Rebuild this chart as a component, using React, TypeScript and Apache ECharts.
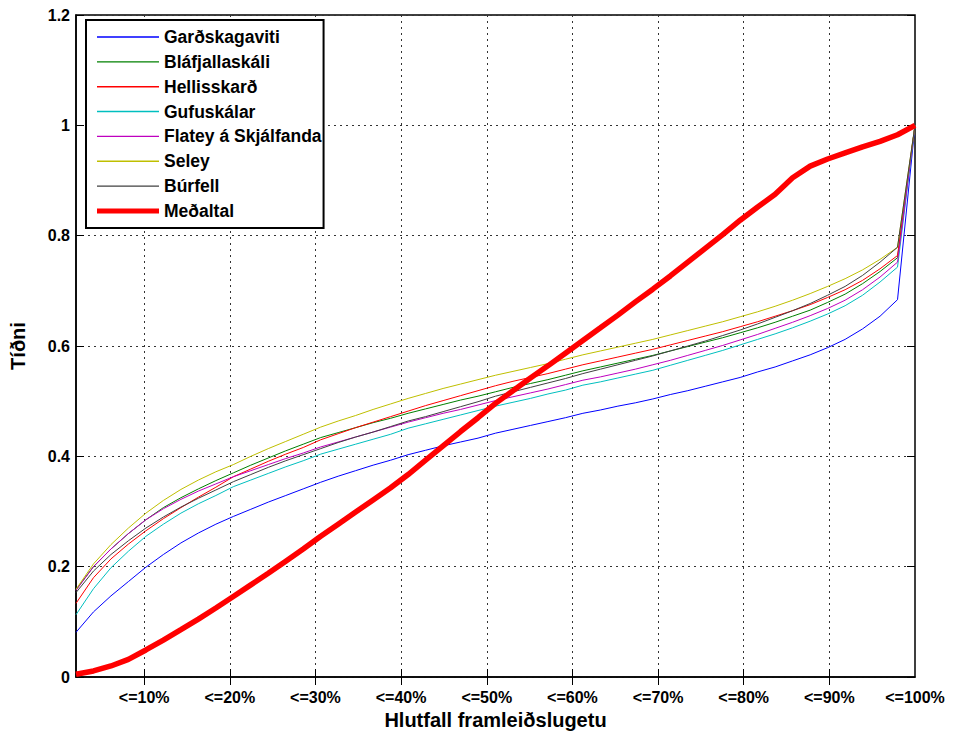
import React, { useEffect, useRef } from "react";
import * as echarts from "echarts";

const capacityPct = [
  2.04, 4.08, 6.12, 8.16, 10.2, 12.24, 14.29, 16.33, 18.37, 20.41, 22.45, 24.49, 26.53, 28.57, 30.61,
  32.65, 34.69, 36.73, 38.78, 40.82, 42.86, 44.9, 46.94, 48.98, 51.02, 53.06, 55.1, 57.14, 59.18, 61.22,
  63.27, 65.31, 67.35, 69.39, 71.43, 73.47, 75.51, 77.55, 79.59, 81.63, 83.67, 85.71, 87.76, 89.8, 91.84,
  93.88, 95.92, 97.96, 100,
];

const gardskagaviti = [
  0.081, 0.118, 0.147, 0.173, 0.199, 0.222, 0.243, 0.261, 0.277, 0.291, 0.304, 0.317, 0.329, 0.341, 0.353,
  0.364, 0.374, 0.384, 0.393, 0.403, 0.411, 0.419, 0.426, 0.433, 0.442, 0.449, 0.456, 0.463, 0.47, 0.478,
  0.484, 0.491, 0.497, 0.504, 0.512, 0.519, 0.527, 0.535, 0.543, 0.553, 0.562, 0.573, 0.584, 0.597, 0.612,
  0.631, 0.654, 0.684, 1,
];
const blafjallaskali = [
  0.158, 0.2, 0.232, 0.26, 0.285, 0.307, 0.325, 0.341, 0.356, 0.37, 0.384, 0.397, 0.41, 0.422, 0.434,
  0.443, 0.452, 0.461, 0.469, 0.478, 0.486, 0.494, 0.502, 0.509, 0.517, 0.525, 0.532, 0.539, 0.547, 0.555,
  0.562, 0.569, 0.576, 0.583, 0.591, 0.599, 0.607, 0.615, 0.624, 0.633, 0.643, 0.654, 0.665, 0.679, 0.694,
  0.713, 0.735, 0.76, 1,
];
const hellisskard = [
  0.1335, 0.18, 0.214, 0.241, 0.265, 0.287, 0.307, 0.326, 0.344, 0.363, 0.377, 0.391, 0.404, 0.416, 0.43,
  0.441, 0.452, 0.462, 0.472, 0.482, 0.492, 0.501, 0.51, 0.519, 0.528, 0.536, 0.543, 0.55, 0.558, 0.566,
  0.573, 0.58, 0.587, 0.594, 0.602, 0.61, 0.618, 0.626, 0.635, 0.644, 0.654, 0.664, 0.675, 0.688, 0.702,
  0.719, 0.74, 0.764, 1,
];
const gufuskalar = [
  0.113, 0.16, 0.198, 0.228, 0.255, 0.277, 0.297, 0.314, 0.329, 0.345, 0.357, 0.369, 0.381, 0.392, 0.404,
  0.413, 0.422, 0.431, 0.44, 0.451, 0.459, 0.467, 0.475, 0.483, 0.491, 0.498, 0.505, 0.513, 0.52, 0.529,
  0.535, 0.542, 0.549, 0.556, 0.565, 0.574, 0.583, 0.592, 0.602, 0.612, 0.622, 0.633, 0.645, 0.658, 0.673,
  0.692, 0.716, 0.743, 1,
];
const flatey = [
  0.157, 0.2, 0.232, 0.26, 0.285, 0.305, 0.322, 0.337, 0.35, 0.363, 0.374, 0.385, 0.396, 0.406, 0.417,
  0.426, 0.435, 0.444, 0.453, 0.462, 0.47, 0.478, 0.485, 0.493, 0.501, 0.508, 0.515, 0.522, 0.53, 0.538,
  0.544, 0.551, 0.558, 0.566, 0.574, 0.583, 0.592, 0.601, 0.611, 0.621, 0.632, 0.643, 0.655, 0.668, 0.683,
  0.702, 0.725, 0.752, 1,
];
const seley = [
  0.159, 0.205, 0.24, 0.27, 0.297, 0.32, 0.34, 0.357, 0.372, 0.385, 0.4, 0.414, 0.427, 0.44, 0.453,
  0.464, 0.474, 0.485, 0.495, 0.505, 0.514, 0.523, 0.531, 0.539, 0.547, 0.554, 0.561, 0.568, 0.576, 0.584,
  0.591, 0.598, 0.605, 0.612, 0.62, 0.628, 0.636, 0.644, 0.653, 0.662, 0.672, 0.683, 0.695, 0.708, 0.722,
  0.738, 0.757, 0.779, 1,
];
const burfell = [
  0.153, 0.192, 0.222, 0.247, 0.27, 0.29, 0.308, 0.324, 0.339, 0.354, 0.367, 0.38, 0.392, 0.403, 0.414,
  0.425, 0.435, 0.444, 0.454, 0.464, 0.472, 0.481, 0.49, 0.499, 0.509, 0.517, 0.525, 0.533, 0.541, 0.55,
  0.558, 0.566, 0.574, 0.582, 0.591, 0.6, 0.609, 0.619, 0.629, 0.64, 0.652, 0.664, 0.677, 0.692, 0.708,
  0.728, 0.752, 0.779, 1,
];
const medaltal = [
  0.005, 0.011, 0.02, 0.032, 0.049, 0.067, 0.086, 0.105, 0.125, 0.146, 0.167, 0.188, 0.21, 0.232, 0.255,
  0.277, 0.299, 0.321, 0.343, 0.367, 0.393, 0.419, 0.445, 0.47, 0.496, 0.519, 0.542, 0.564, 0.587, 0.61,
  0.633, 0.656, 0.68, 0.703, 0.727, 0.752, 0.777, 0.802, 0.828, 0.852, 0.875, 0.905, 0.926, 0.939, 0.95,
  0.961, 0.971, 0.983, 1,
];

const seriesNames = [
  "Garðskagaviti",
  "Bláfjallaskáli",
  "Hellisskarð",
  "Gufuskálar",
  "Flatey á Skjálfanda",
  "Seley",
  "Búrfell",
  "Meðaltal",
];
const seriesValues = [gardskagaviti, blafjallaskali, hellisskard, gufuskalar, flatey, seley, burfell, medaltal];
const seriesColors = ["#0000ff", "#008000", "#ff0000", "#00bfbf", "#bf00bf", "#bfbf00", "#404040", "#ff0000"];

const xTickValues = [10, 20, 30, 40, 50, 60, 70, 80, 90];
const xLabelValues = [10, 20, 30, 40, 50, 60, 70, 80, 90, 100];

const FONT = "'Liberation Sans', Arial, Helvetica, sans-serif";

// legend line icons: invisible move-to points fix the box (62 x 14), the filled strip is the line
const THIN_ICON = "path://M0,0 M62,14 M0,6.3 L62,6.3 L62,7.7 L0,7.7 Z";
const THICK_ICON = "path://M0,0 M62,14 M0,4.5 L62,4.5 L62,9.5 L0,9.5 Z";

export default function App() {
  const ref = useRef<HTMLDivElement>(null);
  useEffect(() => {
    if (!ref.current) return;
    const chart = echarts.init(ref.current, null, { renderer: "svg" });
    const gridLine = { show: true, lineStyle: { color: "#333", type: [2, 4], width: 1 } };
    const series = seriesNames.map((name, k) => ({
      name,
      type: "line",
      symbol: "none",
      data: capacityPct.map((x, i) => [x, seriesValues[k][i]]),
      lineStyle: { color: seriesColors[k], width: k === 7 ? 5.5 : 1 },
      itemStyle: { color: seriesColors[k] },
      z: k === 7 ? 5 : 2,
    }));
    chart.setOption({
      animation: false,
      backgroundColor: "#fff",
      textStyle: { fontFamily: FONT },
      grid: { left: 72, right: 40, top: 15, bottom: 55, show: true, borderColor: "#000", borderWidth: 1.5 },
      legend: {
        orient: "vertical",
        left: 86,
        top: 20,
        padding: [7, 2, 7, 11],
        itemWidth: 62,
        itemHeight: 14,
        itemGap: 4.85,
        backgroundColor: "#fff",
        borderColor: "#000",
        borderWidth: 2,
        borderRadius: 0,
        data: seriesNames.map((name, k) => ({ name, icon: k === 7 ? THICK_ICON : THIN_ICON })),
        textStyle: { fontFamily: FONT, fontSize: 17.5, fontWeight: "bold", color: "#000", lineHeight: 20 },
      },
      xAxis: [
        {
          type: "value",
          min: 2.04,
          max: 100,
          name: "Hlutfall framleiðslugetu",
          nameLocation: "middle",
          nameGap: 33,
          nameTextStyle: { fontFamily: FONT, fontSize: 20, fontWeight: "bold", color: "#000" },
          axisLine: { show: true, lineStyle: { color: "#000", width: 1.5 } },
          axisTick: { show: true, inside: true, length: 8, customValues: xTickValues, lineStyle: { color: "#000" } },
          axisLabel: {
            customValues: xLabelValues,
            formatter: (v: number) => "<=" + Math.round(v) + "%",
            fontFamily: FONT,
            fontSize: 16,
            fontWeight: "bold",
            color: "#000",
            margin: 12,
          },
          splitLine: gridLine,
        },
        {
          type: "value",
          position: "top",
          min: 2.04,
          max: 100,
          axisLine: { show: false },
          axisTick: { show: true, inside: true, length: 8, customValues: xTickValues, lineStyle: { color: "#000" } },
          axisLabel: { show: false },
          splitLine: { show: false },
        },
      ],
      yAxis: [
        {
          type: "value",
          min: 0,
          max: 1.2,
          interval: 0.2,
          name: "Tíðni",
          nameLocation: "middle",
          nameGap: 48,
          nameTextStyle: { fontFamily: FONT, fontSize: 20, fontWeight: "bold", color: "#000" },
          axisLine: { show: true, lineStyle: { color: "#000", width: 1.5 } },
          axisTick: { show: true, inside: true, length: 8, lineStyle: { color: "#000" } },
          axisLabel: { fontFamily: FONT, fontSize: 16, fontWeight: "bold", color: "#000", margin: 6 },
          splitLine: gridLine,
        },
        {
          type: "value",
          position: "right",
          min: 0,
          max: 1.2,
          interval: 0.2,
          axisLine: { show: false },
          axisTick: { show: true, inside: true, length: 8, lineStyle: { color: "#000" } },
          axisLabel: { show: false },
          splitLine: { show: false },
        },
      ],
      series,
    });
    return () => chart.dispose();
  }, []);
  return <div ref={ref} style={{ position: "fixed", left: 0, top: 0, width: 955, height: 735 }} />;
}
